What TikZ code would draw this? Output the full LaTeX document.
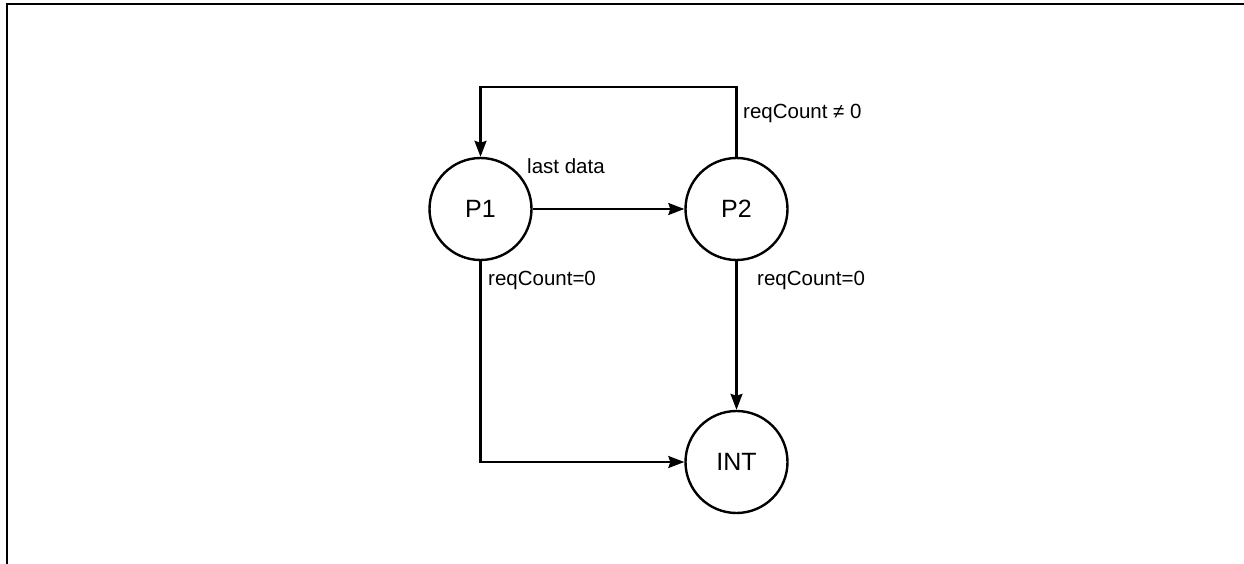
\documentclass[tikz,border=0pt]{standalone}
\usepackage{fontspec}
\setmainfont{Liberation Sans}
\usetikzlibrary{arrows.meta}
\begin{document}
\begin{tikzpicture}[x=1pt,y=-1pt,
  state/.style={circle,draw,line width=2.4pt,minimum size=102pt,inner sep=0pt,font=\fontsize{25}{29}\selectfont},
  lbl/.style={anchor=west,inner sep=0pt,font=\fontsize{20.5}{24}\selectfont},
  conn/.style={line width=2.2pt,-{Stealth[length=16pt,width=12pt,inset=2pt]}},
  frame/.style={line width=2.4pt}]
\useasboundingbox (0,0) rectangle (1244,564);
\draw[frame] (7,564) -- (7,4) -- (1244,4);
\node[state] (P1) at (480.5,209) {P1};
\node[state] (P2) at (736.5,209) {P2};
\node[state] (INT) at (736.5,462) {INT};
\coordinate (loop) at (608,87);
\draw[conn] (P2.north) |- (loop) -| (P1.north);
\draw[conn] (P1.east) -- (P2.west);
\draw[conn] (P2.south) -- (INT.north);
\draw[conn] (P1.south) |- (INT.west);
\node[lbl] (l1) at (527,166) {last data};
\node[lbl] (l2) at (743,113) {reqCount ≠ 0};
\node[lbl] (l3) at (488,280) {reqCount=0};
\node[lbl] (l4) at (757,280) {reqCount=0};
\end{tikzpicture}
\end{document}
